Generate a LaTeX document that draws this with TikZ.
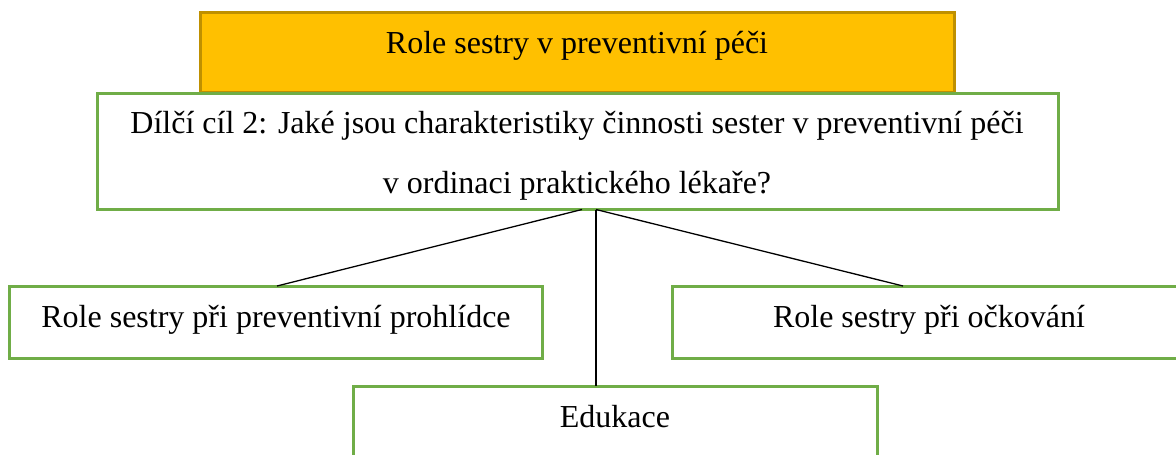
\documentclass[tikz,border=0pt]{standalone}
\usepackage{fontspec}
\setmainfont{Liberation Serif}
\definecolor{goldfill}{HTML}{FFC000}
\definecolor{golddraw}{HTML}{BF9000}
\definecolor{boxgreen}{HTML}{70AD47}
\begin{document}
\begin{tikzpicture}[x=1pt,y=-1pt,
  box/.style={draw=boxgreen,line width=3pt,fill=white,inner sep=0pt,outer sep=0pt},
  topbox/.style={draw=golddraw,line width=3pt,fill=goldfill,inner sep=0pt,outer sep=0pt},
  txt/.style={anchor=base,inner sep=0pt,font=\fontsize{32}{38}\selectfont},
  link/.style={draw=black,line width=1.3pt}]
\useasboundingbox (0,0) rectangle (1176,455);
% boxes
\node[topbox,minimum width=754pt,minimum height=80pt] (top) at (577,52) {};
\node[box,minimum width=961pt,minimum height=116pt] (sub) at (577.5,151) {};
\node[box,minimum width=533pt,minimum height=72pt] (left) at (275.5,322) {};
\node[box,minimum width=514pt,minimum height=72pt] (right) at (929,322) {};
\node[box,minimum width=524pt,minimum height=100pt] (edu) at (615,436) {};
% texts
\node[txt] (ttop) at (577,53) {Role sestry v preventivní péči};
\node[txt] (tsub1) at (577,133) {Dílčí cíl 2: Jaké jsou charakteristiky činnosti sester v preventivní péči};
\node[txt] (tsub2) at (577,193) {v ordinaci praktického lékaře?};
\node[txt] (tleft) at (276,327) {Role sestry při preventivní prohlídce};
\node[txt] (tright) at (929,327) {Role sestry při očkování};
\node[txt] (tedu) at (615,427) {Edukace};
% connector points
\coordinate (sA) at (582,209.5);
\coordinate (sB) at (596,209.5);
\coordinate (lA) at (277,286);
\coordinate (rA) at (903,286);
\coordinate (eA) at (596,386);
\draw[link] (sA) -- (lA);
\draw[link] (sB) -- (rA);
\draw[link] (sB) -- (eA);
\end{tikzpicture}
\end{document}
